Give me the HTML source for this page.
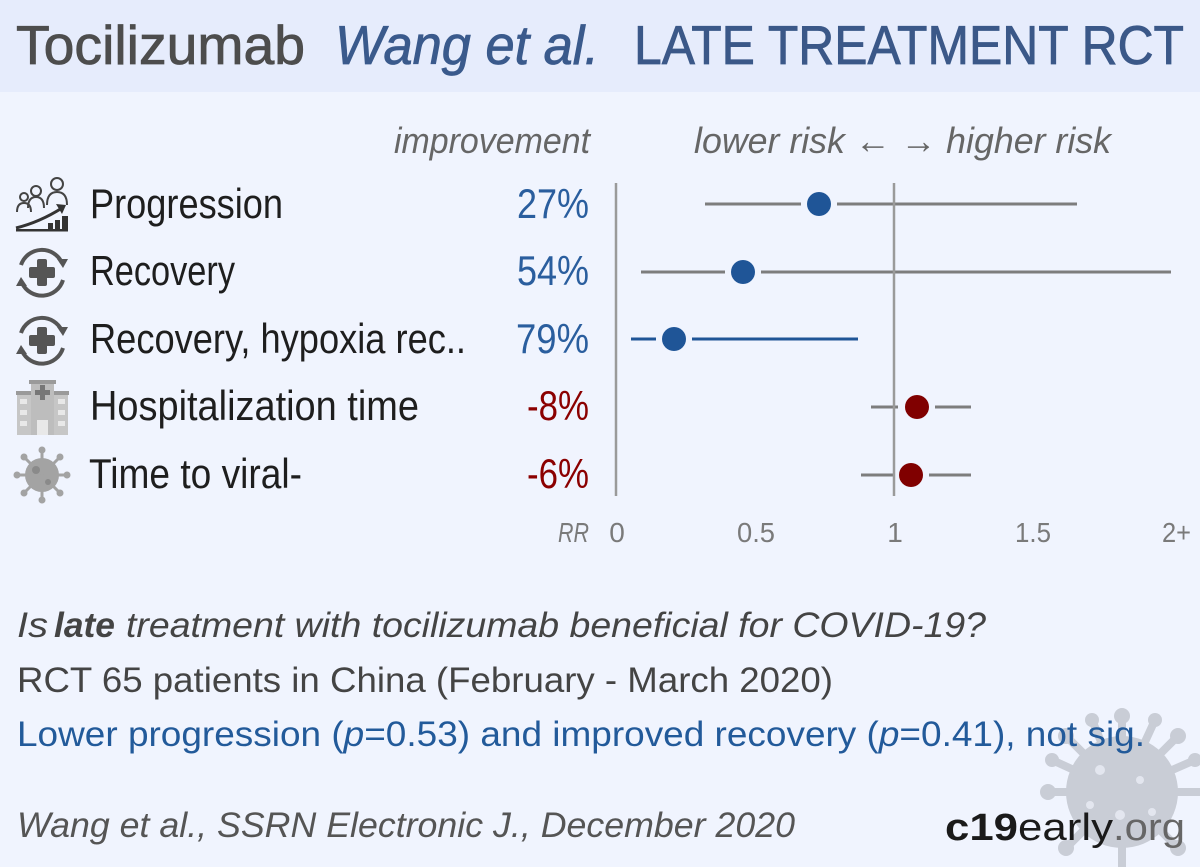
<!DOCTYPE html>
<html><head><meta charset="utf-8"><style>
html,body{margin:0;padding:0;background:#f0f4fe;}
svg{display:block;}
text{font-family:"Liberation Sans",sans-serif;}
</style></head><body>
<svg width="1200" height="867" viewBox="0 0 1200 867" xmlns="http://www.w3.org/2000/svg">
<rect x="0" y="0" width="1200" height="867" fill="#f0f4fe"/>
<rect x="0" y="0" width="1200" height="92" fill="#e6ecfc"/>

<!-- watermark virus -->
<g opacity="0.75" fill="#bcc0c9" stroke="#bcc0c9">
  <g stroke-width="8" stroke-linecap="round">
    <line x1="1122" y1="792" x2="1122" y2="716"/>
    <line x1="1122" y1="792" x2="1178" y2="736"/>
    <line x1="1122" y1="792" x2="1202" y2="792"/>
    <line x1="1122" y1="792" x2="1178" y2="848"/>
    <line x1="1122" y1="792" x2="1122" y2="870"/>
    <line x1="1122" y1="792" x2="1066" y2="848"/>
    <line x1="1122" y1="792" x2="1046" y2="792"/>
    <line x1="1122" y1="792" x2="1066" y2="736"/>
    <line x1="1122" y1="792" x2="1092" y2="720"/>
    <line x1="1122" y1="792" x2="1155" y2="720"/>
    <line x1="1122" y1="792" x2="1052" y2="760"/>
    <line x1="1122" y1="792" x2="1195" y2="760"/>
  </g>
  <circle cx="1122" cy="792" r="56" stroke="none"/>
  <g stroke="none">
    <circle cx="1122" cy="716" r="8"/><circle cx="1178" cy="736" r="8"/>
    <circle cx="1066" cy="736" r="8"/><circle cx="1048" cy="792" r="8"/>
    <circle cx="1066" cy="848" r="8"/><circle cx="1092" cy="720" r="7"/>
    <circle cx="1155" cy="720" r="7"/><circle cx="1052" cy="760" r="7"/>
    <circle cx="1195" cy="760" r="7"/><circle cx="1178" cy="848" r="8"/>
  </g>
  <g fill="#dfe2ea" stroke="none">
    <circle cx="1100" cy="770" r="5"/><circle cx="1140" cy="780" r="4"/>
    <circle cx="1120" cy="815" r="5"/><circle cx="1152" cy="812" r="4"/>
    <circle cx="1090" cy="805" r="4"/>
  </g>
</g>

<!-- title -->
<text x="16" y="64" font-size="55" fill="#4d4d4d" stroke="#4d4d4d" stroke-width="0.8" textLength="289" lengthAdjust="spacingAndGlyphs">Tocilizumab</text>
<text x="335" y="64" font-size="55" font-style="italic" fill="#3a5a8c" stroke="#3a5a8c" stroke-width="0.8" textLength="264" lengthAdjust="spacingAndGlyphs">Wang et al.</text>
<text x="634" y="64" font-size="55" fill="#3b5888" stroke="#3b5888" stroke-width="0.8" textLength="550" lengthAdjust="spacingAndGlyphs">LATE TREATMENT RCT</text>

<!-- column headers -->
<text x="394" y="153" font-size="36" font-style="italic" fill="#666" textLength="196" lengthAdjust="spacingAndGlyphs">improvement</text>
<text x="694" y="153" font-size="36" font-style="italic" fill="#666" textLength="417" lengthAdjust="spacingAndGlyphs">lower risk ← → higher risk</text>

<!-- icons -->
<!-- progression -->
<g fill="none" stroke="#444" stroke-width="2">
  <circle cx="24" cy="197" r="4"/>
  <path d="M17 212 q0-9 7-9 q7 0 7 9"/>
  <circle cx="36" cy="191" r="5"/>
  <path d="M28 208 q0-11 8-11 q8 0 8 11"/>
  <circle cx="57" cy="184" r="6"/>
  <path d="M47 205 q0-13 10-13 q10 0 10 13"/>
</g>
<path d="M16 228 Q40 222 62 208" fill="none" stroke="#333" stroke-width="3"/>
<polygon points="56,204 66,205 62,214" fill="#333"/>
<rect x="16" y="229" width="52" height="2.5" fill="#333"/>
<rect x="48" y="223" width="5" height="7" fill="#333"/>
<rect x="55" y="220" width="5" height="10" fill="#333"/>
<rect x="62" y="216" width="6" height="14" fill="#333"/>

<!-- recovery icons -->
<g>
  <path d="M21 265 A22 22 0 0 1 62 263" fill="none" stroke="#555" stroke-width="4"/>
  <polygon points="57,259 68,259 63,268" fill="#555"/>
  <path d="M63 280 A22 22 0 0 1 22 283" fill="none" stroke="#555" stroke-width="4"/>
  <polygon points="16,286 27,286 21,277" fill="#555"/>
  <rect x="37" y="259" width="10" height="27" rx="2" fill="#555"/>
  <rect x="29" y="267" width="26" height="11" rx="2" fill="#555"/>
</g>
<g transform="translate(0,68)">
  <path d="M21 265 A22 22 0 0 1 62 263" fill="none" stroke="#555" stroke-width="4"/>
  <polygon points="57,259 68,259 63,268" fill="#555"/>
  <path d="M63 280 A22 22 0 0 1 22 283" fill="none" stroke="#555" stroke-width="4"/>
  <polygon points="16,286 27,286 21,277" fill="#555"/>
  <rect x="37" y="259" width="10" height="27" rx="2" fill="#555"/>
  <rect x="29" y="267" width="26" height="11" rx="2" fill="#555"/>
</g>

<!-- hospital -->
<g>
  <rect x="31" y="380" width="23" height="55" fill="#bdbdbd"/>
  <rect x="29" y="380" width="27" height="4" fill="#9a9a9a"/>
  <rect x="17" y="392" width="14" height="43" fill="#c6c6c6"/>
  <rect x="54" y="392" width="14" height="43" fill="#c6c6c6"/>
  <rect x="16" y="391" width="15" height="4" fill="#9a9a9a"/>
  <rect x="54" y="391" width="15" height="4" fill="#9a9a9a"/>
  <rect x="40" y="385" width="5" height="15" fill="#777"/>
  <rect x="35" y="390" width="15" height="5" fill="#777"/>
  <g fill="#e8e8e8">
    <rect x="20" y="399" width="7" height="5"/><rect x="58" y="399" width="7" height="5"/>
    <rect x="20" y="410" width="7" height="5"/><rect x="58" y="410" width="7" height="5"/>
    <rect x="20" y="421" width="7" height="5"/><rect x="58" y="421" width="7" height="5"/>
    <rect x="37" y="420" width="11" height="15"/>
  </g>
</g>

<!-- virus icon -->
<g fill="#a3a3a3" stroke="#a3a3a3">
  <circle cx="42" cy="475" r="17" stroke="none"/>
  <g stroke-width="3">
    <line x1="42" y1="475" x2="42" y2="451"/><line x1="42" y1="475" x2="42" y2="499"/>
    <line x1="42" y1="475" x2="18" y2="475"/><line x1="42" y1="475" x2="66" y2="475"/>
    <line x1="42" y1="475" x2="25" y2="458"/><line x1="42" y1="475" x2="59" y2="458"/>
    <line x1="42" y1="475" x2="25" y2="492"/><line x1="42" y1="475" x2="59" y2="492"/>
  </g>
  <g stroke="none">
    <circle cx="42" cy="450" r="3.5"/><circle cx="42" cy="500" r="3.5"/>
    <circle cx="17" cy="475" r="3.5"/><circle cx="67" cy="475" r="3.5"/>
    <circle cx="24" cy="457" r="3.5"/><circle cx="60" cy="457" r="3.5"/>
    <circle cx="24" cy="493" r="3.5"/><circle cx="60" cy="493" r="3.5"/>
  </g>
  <circle cx="36" cy="470" r="4" fill="#8a8a8a" stroke="none"/>
  <circle cx="48" cy="482" r="3" fill="#8a8a8a" stroke="none"/>
</g>

<!-- labels -->
<g font-size="42" fill="#1e1e1e">
  <text x="90" y="218" textLength="193" lengthAdjust="spacingAndGlyphs">Progression</text>
  <text x="90" y="285" textLength="145" lengthAdjust="spacingAndGlyphs">Recovery</text>
  <text x="90" y="353" textLength="376" lengthAdjust="spacingAndGlyphs">Recovery, hypoxia rec..</text>
  <text x="90" y="420" textLength="329" lengthAdjust="spacingAndGlyphs">Hospitalization time</text>
  <text x="89" y="488" textLength="213" lengthAdjust="spacingAndGlyphs">Time to viral-</text>
</g>
<g font-size="42">
  <text x="517" y="218" fill="#2a5e9e" textLength="72" lengthAdjust="spacingAndGlyphs">27%</text>
  <text x="517" y="285" fill="#2a5e9e" textLength="72" lengthAdjust="spacingAndGlyphs">54%</text>
  <text x="516" y="353" fill="#2a5e9e" textLength="73" lengthAdjust="spacingAndGlyphs">79%</text>
  <text x="527" y="420" fill="#8b0000" textLength="62" lengthAdjust="spacingAndGlyphs">-8%</text>
  <text x="527" y="488" fill="#8b0000" textLength="62" lengthAdjust="spacingAndGlyphs">-6%</text>
</g>

<!-- CI lines -->
<g stroke="#7d7d7d" stroke-width="3">
  <line x1="705" y1="204" x2="801" y2="204"/><line x1="837" y1="204" x2="1077" y2="204"/>
  <line x1="641" y1="272" x2="725" y2="272"/><line x1="761" y1="272" x2="1171" y2="272"/>
  <line x1="871" y1="407" x2="898" y2="407"/><line x1="935" y1="407" x2="971" y2="407"/>
  <line x1="861" y1="475" x2="893" y2="475"/><line x1="929" y1="475" x2="971" y2="475"/>
</g>
<g stroke="#1f5597" stroke-width="3">
  <line x1="631" y1="339" x2="656" y2="339"/><line x1="692" y1="339" x2="858" y2="339"/>
</g>

<!-- axis lines -->
<line x1="616" y1="183" x2="616" y2="496" stroke="#9a9a9a" stroke-width="2.5"/>
<line x1="894" y1="183" x2="894" y2="496" stroke="#9a9a9a" stroke-width="2.5"/>

<!-- dots -->
<circle cx="819" cy="204" r="12" fill="#1f5597"/>
<circle cx="743" cy="272" r="12" fill="#1f5597"/>
<circle cx="674" cy="339" r="12" fill="#1f5597"/>
<circle cx="917" cy="407" r="12" fill="#800000"/>
<circle cx="911" cy="475" r="12" fill="#800000"/>

<!-- tick labels -->
<g font-size="28" fill="#7a7a7a">
  <text x="558" y="542" font-style="italic" textLength="31" lengthAdjust="spacingAndGlyphs">RR</text>
  <text x="617" y="542" text-anchor="middle">0</text>
  <text x="756" y="542" text-anchor="middle" textLength="38" lengthAdjust="spacingAndGlyphs">0.5</text>
  <text x="895" y="542" text-anchor="middle">1</text>
  <text x="1033" y="542" text-anchor="middle" textLength="36" lengthAdjust="spacingAndGlyphs">1.5</text>
  <text x="1162" y="542" textLength="29" lengthAdjust="spacingAndGlyphs">2+</text>
</g>

<!-- bottom text -->
<g font-size="35">
  <text x="17" y="637" font-style="italic" fill="#444" textLength="31" lengthAdjust="spacingAndGlyphs">Is</text>
  <text x="54" y="637" font-style="italic" font-weight="bold" fill="#444" textLength="61" lengthAdjust="spacingAndGlyphs">late</text>
  <text x="126" y="637" font-style="italic" fill="#444" textLength="860" lengthAdjust="spacingAndGlyphs">treatment with tocilizumab beneficial for COVID-19?</text>
  <text x="17" y="692" fill="#444" textLength="816" lengthAdjust="spacingAndGlyphs">RCT 65 patients in China (February - March 2020)</text>
  <text x="17" y="746" fill="#225a9a" textLength="1128" lengthAdjust="spacingAndGlyphs">Lower progression (<tspan font-style="italic">p</tspan>=0.53) and improved recovery (<tspan font-style="italic">p</tspan>=0.41), not sig.</text>
  <text x="17" y="837" font-style="italic" fill="#555" textLength="778" lengthAdjust="spacingAndGlyphs">Wang et al., SSRN Electronic J., December 2020</text>
</g>
<g font-size="38">
  <text x="945" y="840" font-weight="bold" fill="#1a1a1a" textLength="73" lengthAdjust="spacingAndGlyphs">c19</text>
  <text x="1018" y="840" fill="#1a1a1a" textLength="95" lengthAdjust="spacingAndGlyphs">early</text>
  <text x="1113" y="840" fill="#666" textLength="72" lengthAdjust="spacingAndGlyphs">.org</text>
</g>
</svg>
</body></html>
